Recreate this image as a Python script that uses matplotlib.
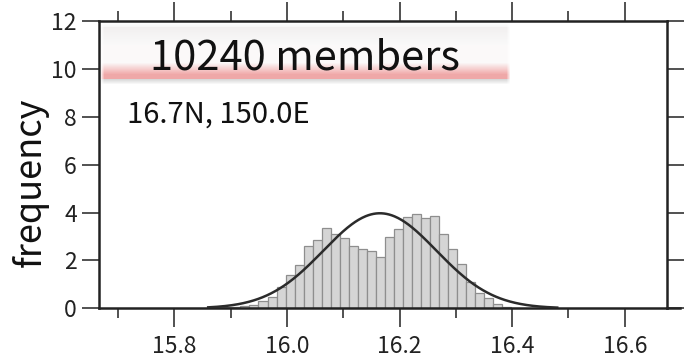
import numpy as np
import matplotlib
matplotlib.use("Agg")
import matplotlib.pyplot as plt
from matplotlib.lines import Line2D

# ---------------- data ----------------
bin_start = 15.853
bin_width = 0.01605
frequency = [0.02, 0.04, 0.06, 0.07, 0.10, 0.12, 0.32, 0.46, 0.88, 1.37,
             1.82, 2.62, 2.84, 3.36, 3.10, 2.92, 2.62, 2.49, 2.39, 2.16,
             2.98, 3.30, 3.83, 3.94, 3.77, 3.86, 3.10, 2.49, 1.85, 1.11,
             0.65, 0.43, 0.18, 0.07, 0.03]
fit_mean = 16.165
fit_sigma = 0.1005
fit_range = (15.86, 16.48)
x_major = [15.8, 16.0, 16.2, 16.4, 16.6]
x_labels = ["15.8", "16.0", "16.2", "16.4", "16.6"]
y_major = [0, 2, 4, 6, 8, 10, 12]
title_text = "10240 members"
loc_text = "16.7N, 150.0E"
ylabel_text = "frequency"

FONT = ["Noto Sans CJK JP", "DejaVu Sans"]
plt.rcParams['font.family'] = FONT

W, H = 688, 357
fig = plt.figure(figsize=(W / 100, H / 100), dpi=100)
L, R, T, B = 99, 667, 21, 308.3
ax = fig.add_axes([L / W, 1 - B / H, (R - L) / W, (B - T) / H])

edges = bin_start + bin_width * np.arange(len(frequency) + 1)
ax.bar(edges[:-1], frequency, width=bin_width, align='edge',
       color='#d5d5d5', edgecolor='#8e8e8e', linewidth=0.9, zorder=2)

xs = np.linspace(fit_range[0], fit_range[1], 400)
pdf = np.exp(-0.5 * ((xs - fit_mean) / fit_sigma) ** 2) / (fit_sigma * np.sqrt(2 * np.pi))
ax.plot(xs, pdf, color='#2b2b2b', linewidth=1.8, zorder=3)

ax.set_xlim(15.666, 16.675)
ax.set_ylim(0, 12)
ax.set_xticks(x_major)
ax.set_xticklabels(x_labels)
ax.set_xticks(np.arange(15.7, 16.7, 0.2), minor=True)
ax.set_yticks(y_major)

for s in ax.spines.values():
    s.set_linewidth(1.8)
    s.set_color('#222222')
ax.tick_params(axis='x', which='major', direction='out', length=14, width=1.2,
               color='#333333', labelsize=16.5, pad=5, top=True, labeltop=False)
ax.tick_params(axis='x', which='minor', direction='out', length=7, width=1.2,
               color='#333333', top=True)
ax.tick_params(axis='y', which='major', direction='out', length=12, width=1.2,
               color='#333333', labelsize=16.5, pad=4, right=True, labelright=False)
for lab in ax.get_xticklabels() + ax.get_yticklabels():
    lab.set_color('#222222')

# bottom axis line extending past right spine
fig.add_artist(Line2D([R / W, 680 / W], [1 - B / H, 1 - B / H],
                      color='#222222', linewidth=1.8, transform=fig.transFigure))

fig.text(30 / W, 1 - 182 / H, ylabel_text, rotation=90, ha='center', va='center',
         fontsize=26, color='#111111')

# title box with gradient
bx0, bx1, by0, by1 = 101, 510, 23, 84
nh, nw = by1 - by0, bx1 - bx0
img = np.ones((nh, nw, 4))
rows = np.arange(nh) + by0
for i, y in enumerate(rows):
    if y < 27:
        c, a = (0.90, 0.90, 0.90), 0.35 * (y - 22) / 5
    elif y < 45:
        t = (y - 27) / 18
        c, a = (0.95 + 0.03 * t, 0.94 + 0.04 * t, 0.94 + 0.04 * t), 1.0
    elif y < 62:
        c, a = (0.985, 0.98, 0.98), 1.0
    elif y < 74:
        t = (y - 62) / 12
        c, a = (0.985 - 0.04 * t, 0.98 - 0.32 * t, 0.98 - 0.32 * t), 1.0
    elif y < 79:
        c, a = (0.94, 0.66, 0.66), 1.0
    else:
        c, a = (0.70, 0.70, 0.70), 0.5 * (84 - y) / 5
    img[i, :, :3] = c
    img[i, :, 3] = a
cols = np.arange(nw)
edge_fade = np.clip(np.minimum(cols + 1, nw - cols) / 4.0, 0, 1)
img[:, :, 3] *= edge_fade[None, :]
bax = fig.add_axes([bx0 / W, 1 - by1 / H, nw / W, nh / H], zorder=5)
bax.imshow(img, aspect='auto', interpolation='bilinear')
bax.set_axis_off()

fig.text(305 / W, 1 - 70 / H, title_text, ha='center', va='baseline',
         fontsize=30, color='#111111', zorder=6)
fig.text(127 / W, 1 - 123 / H, loc_text, ha='left', va='baseline',
         fontsize=21, color='#111111', zorder=6)

fig.savefig("out.png", dpi=100)
